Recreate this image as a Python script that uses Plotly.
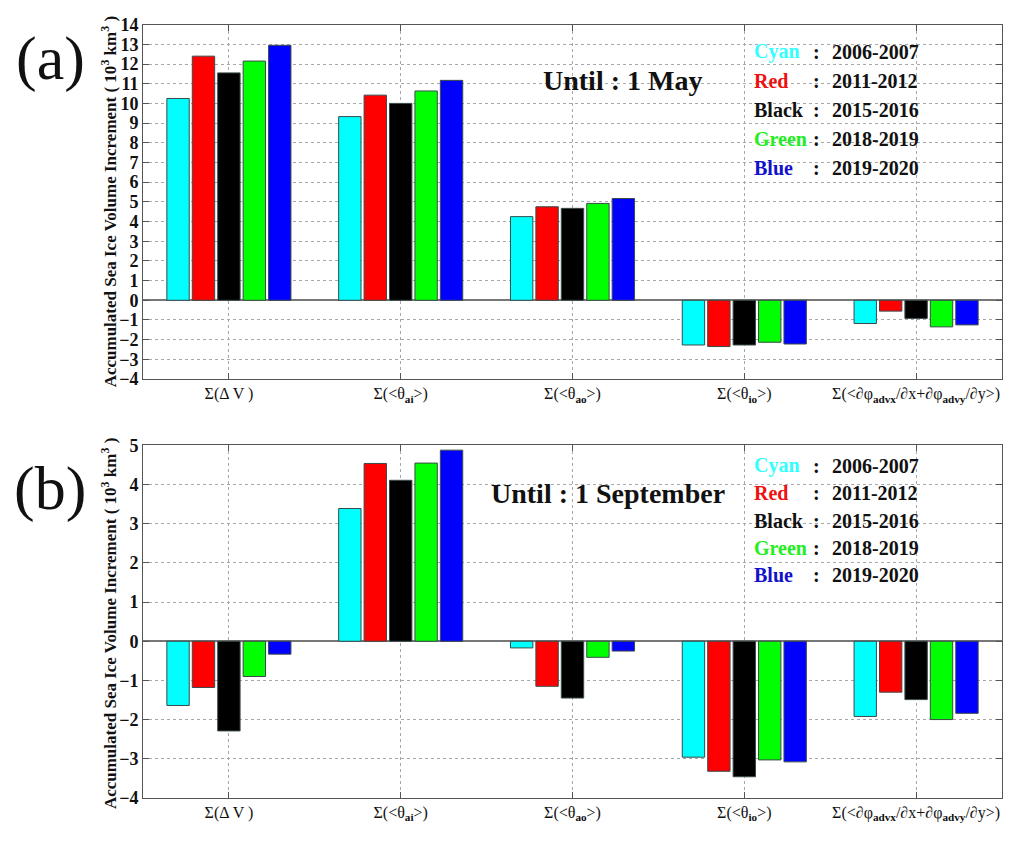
import plotly.graph_objects as go

# Budget terms (x categories)
terms = [
    "Σ(Δ V )",
    "Σ(&lt;θ<sub><b>ai</b></sub>&gt;)",
    "Σ(&lt;θ<sub><b>ao</b></sub>&gt;)",
    "Σ(&lt;θ<sub><b>io</b></sub>&gt;)",
    "Σ(&lt;∂φ<sub><b>advx</b></sub>/∂x+∂φ<sub><b>advy</b></sub>/∂y&gt;)",
]

seasons = ["2006-2007", "2011-2012", "2015-2016", "2018-2019", "2019-2020"]
color_names = ["Cyan", "Red", "Black", "Green", "Blue"]
colors = ["#00FFFF", "#FF0000", "#000000", "#00FF00", "#0000FF"]

# Accumulated volume increment until 1 May (10^3 km^3), one list per season
may_2006 = [10.25, 9.33, 4.25, -2.27, -1.18]
may_2011 = [12.40, 10.42, 4.75, -2.35, -0.55]
may_2015 = [11.55, 10.00, 4.67, -2.27, -0.92]
may_2018 = [12.15, 10.63, 4.92, -2.13, -1.35]
may_2019 = [12.95, 11.17, 5.17, -2.22, -1.25]

# Accumulated volume increment until 1 September (10^3 km^3)
sep_2006 = [-1.64, 3.39, -0.17, -2.96, -1.92]
sep_2011 = [-1.18, 4.54, -1.15, -3.32, -1.30]
sep_2015 = [-2.29, 4.11, -1.45, -3.46, -1.49]
sep_2018 = [-0.90, 4.55, -0.41, -3.03, -2.00]
sep_2019 = [-0.33, 4.88, -0.25, -3.08, -1.84]

may_series = [may_2006, may_2011, may_2015, may_2018, may_2019]
sep_series = [sep_2006, sep_2011, sep_2015, sep_2018, sep_2019]

SERIF = "Liberation Serif"
W, H = 1024, 845

fig = go.Figure()

for vals, col, season in zip(may_series, colors, seasons):
    fig.add_trace(go.Bar(x=terms, y=vals, marker=dict(color=col, line=dict(color="#3a4a4a", width=1)),
                         name=season, showlegend=False, xaxis="x", yaxis="y"))
for vals, col, season in zip(sep_series, colors, seasons):
    fig.add_trace(go.Bar(x=terms, y=vals, marker=dict(color=col, line=dict(color="#3a4a4a", width=1)),
                         name=season, showlegend=False, xaxis="x2", yaxis="y2"))

x0, x1 = 143 / W, 1002 / W
top_dom = [(H - 378) / H, (H - 15) / H]
bot_dom = [(H - 807) / H, (H - 446) / H]

axis_common = dict(
    showline=True, linecolor="#555555", linewidth=1, mirror="allticks",
    ticks="inside", ticklen=6, tickcolor="#555555",
    showgrid=True, gridcolor="#a8a8a8", griddash="dot", gridwidth=1,
)

xcommon = dict(axis_common, type="category",
               tickfont=dict(family=SERIF, size=16, color="#111111"))
ycommon = dict(axis_common, dtick=1, zeroline=True, zerolinecolor="#777777", zerolinewidth=1.5,
               tickfont=dict(family=SERIF, size=18, color="#111111", weight="bold"))

fig.update_layout(
    width=W, height=H,
    margin=dict(l=0, r=0, t=0, b=0),
    paper_bgcolor="white", plot_bgcolor="white",
    barmode="group", bargap=0.26, bargroupgap=0.12,
    xaxis=dict(xcommon, domain=[x0, x1], anchor="y"),
    yaxis=dict(ycommon, domain=top_dom, range=[-4, 14], anchor="x"),
    xaxis2=dict(xcommon, domain=[x0, x1], anchor="y2"),
    yaxis2=dict(ycommon, domain=bot_dom, range=[-4, 5], anchor="x2"),
)

ytitle = "<b>Accumulated Sea Ice Volume Increment ( 10<sup>3</sup> km<sup>3</sup> )</b>"
annotations = []
for yc in (197, 629):
    annotations.append(dict(text=ytitle, x=109 / W, y=1 - yc / H, xref="paper", yref="paper",
                            textangle=-90, showarrow=False, xanchor="center", yanchor="middle",
                            font=dict(family=SERIF, size=17, color="#111111")))

# Panel letters
for letter, yc in (("(a)", 50), ("(b)", 490)):
    annotations.append(dict(text=letter, x=50 / W, y=1 - yc / H, xref="paper", yref="paper", showarrow=False,
                            font=dict(family=SERIF, size=62, color="#111111"),
                            xanchor="center", yanchor="middle"))

# Period labels
annotations.append(dict(text="<b>Until : 1 May</b>", x=622 / W, y=1 - 72 / H, xref="paper", yref="paper",
                        showarrow=False, font=dict(family=SERIF, size=28, color="#111111"),
                        xanchor="center", yanchor="middle"))
annotations.append(dict(text="<b>Until : 1 September</b>", x=608 / W, y=1 - 495 / H, xref="paper", yref="paper",
                        showarrow=False, font=dict(family=SERIF, size=28, color="#111111"),
                        xanchor="center", yanchor="middle"))

# Colour key in each panel
text_colors = ["#33FFFF", "#EE1111", "#111111", "#22EE22", "#1111CC"]
for ys in ([43, 73, 102, 132, 162], [467, 495, 523, 551, 579]):
    for yy, nm, tc, season in zip(ys, color_names, text_colors, seasons):
        annotations.append(dict(text=f"<b>{nm}</b>", x=752 / W, y=1 - yy / H, xref="paper", yref="paper",
                                showarrow=False, xanchor="left", yanchor="middle",
                                font=dict(family=SERIF, size=20, color=tc)))
        annotations.append(dict(text="<b>:</b>", x=816 / W, y=1 - yy / H, xref="paper", yref="paper",
                                showarrow=False, xanchor="center", yanchor="middle",
                                font=dict(family=SERIF, size=20, color="#111111")))
        annotations.append(dict(text=f"<b>{season}</b>", x=830 / W, y=1 - yy / H, xref="paper",
                                yref="paper", showarrow=False, xanchor="left", yanchor="middle",
                                font=dict(family=SERIF, size=20, color="#111111")))

fig.update_layout(annotations=annotations)

fig.write_html("out.html")
